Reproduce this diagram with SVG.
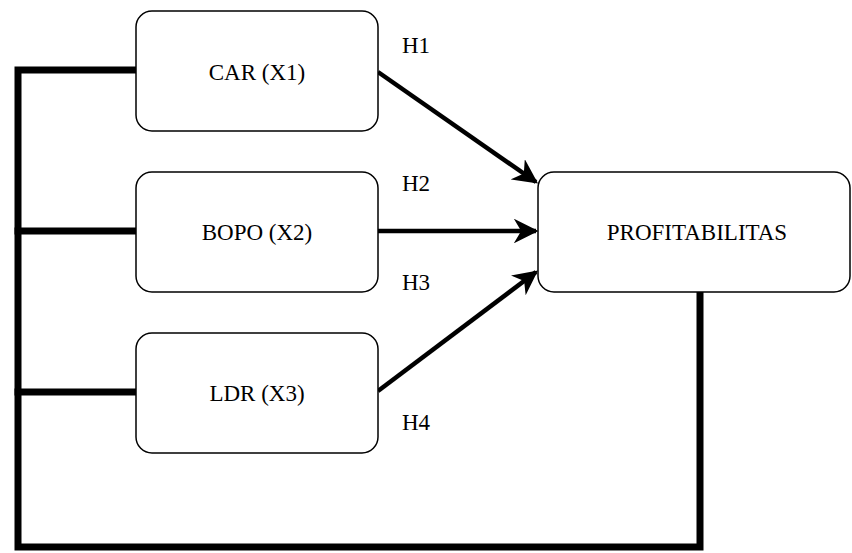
<svg xmlns="http://www.w3.org/2000/svg" width="852" height="553" viewBox="0 0 852 553">
<style>
.box{fill:#fff;stroke:#000;stroke-width:1.5}
.t{font-family:"Liberation Serif",serif;font-size:23px;fill:#000}
.c{text-anchor:middle;dominant-baseline:central}
.frame{fill:none;stroke:#000;stroke-width:7;stroke-linecap:square}
.arr{fill:none;stroke:#000;stroke-width:4.5;marker-end:url(#ah)}
</style>
<defs>
<marker id="ah" viewBox="0 0 10 10" refX="9" refY="5" markerWidth="5.5" markerHeight="5.5" orient="auto" markerUnits="strokeWidth">
<path d="M0,0 L10,5 L0,10 L3,5 Z" fill="#000"/>
</marker>
</defs>
<rect width="852" height="553" fill="#fff"/>
<g id="connectors">
<path class="frame" d="M136,70 H18 V547 H700 V292"/>
<path class="frame" d="M18,231 H136"/>
<path class="frame" d="M18,392 H136"/>
<path class="arr" d="M378,72 L536,182"/>
<path class="arr" d="M378,231 L536,231"/>
<path class="arr" d="M378,391 L536,272"/>
</g>
<g id="car"><rect class="box" x="136" y="11" width="242" height="120" rx="16"/><text class="t c" x="257" y="72">CAR (X1)</text></g>
<g id="bopo"><rect class="box" x="136" y="172" width="242" height="120" rx="16"/><text class="t c" x="257" y="232">BOPO (X2)</text></g>
<g id="ldr"><rect class="box" x="136" y="333" width="242" height="120" rx="16"/><text class="t c" x="257" y="393">LDR (X3)</text></g>
<g id="profit"><rect class="box" x="538" y="172" width="312" height="120" rx="16"/><text class="t c" x="697" y="232">PROFITABILITAS</text></g>
<g id="labels">
<text class="t" x="402" y="53">H1</text>
<text class="t" x="402" y="191">H2</text>
<text class="t" x="402" y="290">H3</text>
<text class="t" x="402" y="430">H4</text>
</g>
</svg>
